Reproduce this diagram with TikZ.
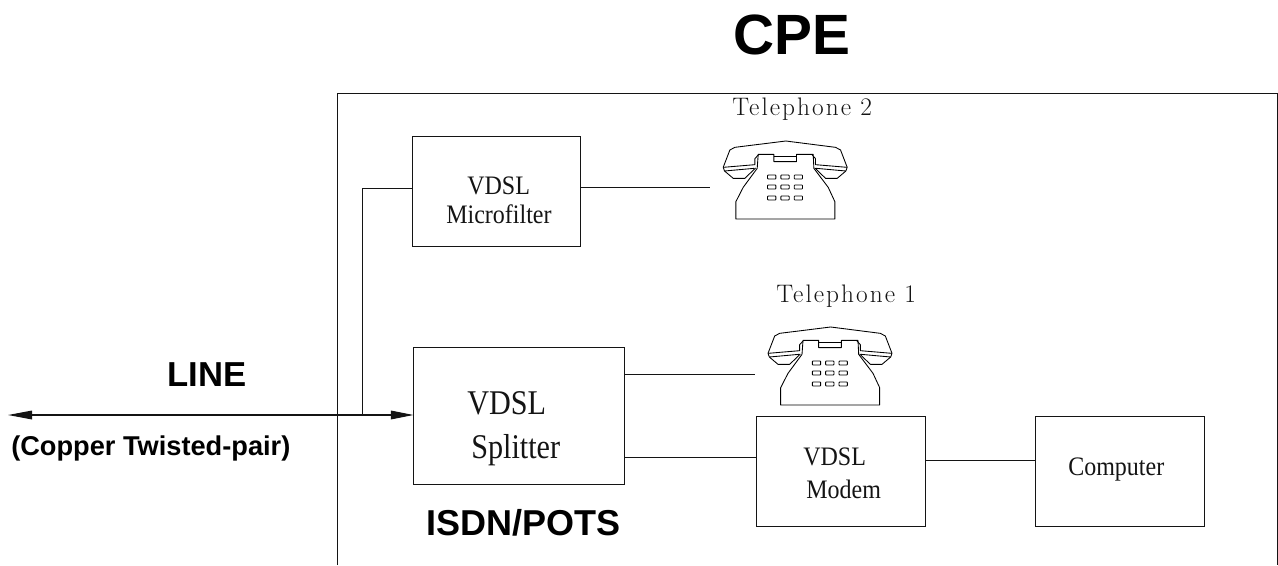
\documentclass[tikz,border=0pt]{standalone}
\usepackage{fontspec}
\usepackage{graphicx}
\usetikzlibrary{arrows.meta}
\setmainfont{Liberation Serif}
\newfontfamily\boldsans[BoldFont={Liberation Sans Bold}]{Liberation Sans}
\newfontfamily\lmfont[LetterSpace=8]{Latin Modern Roman}
\newcommand{\narrow}[1]{\scalebox{.9}[1]{#1}}
\newcommand{\narrowb}[1]{\scalebox{.87}[1]{#1}}
\definecolor{ink}{gray}{0.08}
\tikzset{
  line/.style={draw=ink,line width=.75pt},
  boxnode/.style={line,rectangle,inner sep=0pt,outer sep=0pt,fill=white},
  head/.style={font=\boldsans\bfseries,anchor=base west,inner sep=0pt,text=black},
  serif/.style={anchor=base west,inner sep=0pt,text=ink},
  cad/.style={anchor=base west,inner sep=0pt,text=ink,font=\lmfont\fontsize{19}{19}\selectfont},
  phoneline/.style={draw=black,line width=.65pt,line join=round},
  phonepic/.pic={
    \begin{scope}[x=.25pt,y=-.25pt,shift={(-256,-387)}]
      \draw[phoneline] (70,232) -- (90,180) -- (105,172) -- (258,153) -- (407,172) -- (422,180) -- (442,232);
      \draw[phoneline] (70,232) -- (165,224) -- (165,206) -- (175,195);
      \draw[phoneline] (442,232) -- (347,224) -- (347,206) -- (337,195);
      \draw[phoneline] (70,232) -- (74,243) -- (100,265) -- (135,265) -- (167,234);
      \draw[phoneline] (442,232) -- (438,243) -- (412,265) -- (377,265) -- (345,234);
      \draw[phoneline] (74,243) -- (163,235);
      \draw[phoneline] (438,243) -- (349,235);
      \draw[phoneline] (175,193) -- (222,193) -- (222,215) -- (290,215) -- (290,193) -- (340,193) -- (342,235) -- (385,292) -- (405,335) -- (405,387) -- (108,387) -- (108,335) -- (130,292) -- (172,235) -- cycle;
      \draw[phoneline] (222,198) -- (290,198);
      \foreach \kx in {203,243,283}
        \foreach \ky in {255,285,318}
          \draw[phoneline,rounded corners=.5pt] (\kx,\ky) rectangle ++(25,12);
    \end{scope}
  }
}
\begin{document}
\begin{tikzpicture}[x=.75pt,y=-.75pt]
\useasboundingbox (0,0) rectangle (1278,565);
% outer CPE frame (open at the bottom edge)
\coordinate (framebl) at (337,565);
\coordinate (frametl) at (337,93.5);
\coordinate (frametr) at (1277.5,93.5);
\coordinate (framebr) at (1277.5,565);
\draw[line] (framebl) -- (frametl) -- (frametr) -- (framebr);

% free ends and junctions
\coordinate (lineL) at (8,415);
\coordinate (lineJ) at (362,415);
\coordinate (phoneTwoIn) at (710,187);
\coordinate (phoneOneIn) at (755,374);
\coordinate (splitLow) at (700,457);
\coordinate (compLink) at (980,460);

% boxes
\node[boxnode,minimum width=126.15pt,minimum height=82.5pt] (micro) at (496.85,191) {};
\node[boxnode,minimum width=158.25pt,minimum height=103.1pt] (splitter) at (519,416.25) {};
\node[boxnode,minimum width=126.75pt,minimum height=82.5pt] (modem) at (840.5,471.5) {};
\node[boxnode,minimum width=126.75pt,minimum height=82.5pt] (computer) at (1120,471.5) {};

% connectors
\draw[line,line width=.9pt,{Triangle[length=18pt,width=6.5pt]}-{Triangle[length=17pt,width=6.5pt]}] (lineL) -- (lineL -| splitter.west);
\draw[line] (lineJ) |- (micro.west |- 0,188);
\draw[line] (micro.east |- phoneTwoIn) -- (phoneTwoIn);
\draw[line] (splitter.east |- phoneOneIn) -- (phoneOneIn);
\draw[line] (splitter.east |- splitLow) -- (modem.west |- splitLow);
\draw[line] (modem.east |- compLink) -- (computer.west |- compLink);

% telephones
\pic (phoneTwo) at (785.2,219) {phonepic};
\pic (phoneOne) at (830,405) {phonepic};

% texts
\node[head,font=\boldsans\bfseries\fontsize{42.6}{42.6}\selectfont] (cpe) at (733,54) {CPE};
\node[head,font=\boldsans\bfseries\fontsize{26}{26}\selectfont] (linetxt) at (167,386.5) {LINE};
\node[head,font=\boldsans\bfseries\fontsize{20.4}{20.4}\selectfont] (copper) at (11,455) {(Copper Twisted-pair)};
\node[head,font=\boldsans\bfseries\fontsize{27}{27}\selectfont] (isdn) at (426,535) {ISDN/POTS};
\node[cad] (t2) at (732,115) {Telephone\hspace{7pt}2};
\node[cad] (t1) at (776,302) {Telephone\hspace{7pt}1};
\node[serif,font=\fontsize{20}{20}\selectfont] (mv) at (467,194.5) {\narrow{VDSL}};
\node[serif,font=\fontsize{20}{20}\selectfont] (mf) at (446,223) {\narrow{Microfilter}};
\node[serif,font=\fontsize{26}{26}\selectfont] (sv) at (467,414) {\narrowb{VDSL}};
\node[serif,font=\fontsize{26}{26}\selectfont] (ss) at (471,458) {\narrowb{Splitter}};
\node[serif,font=\fontsize{20}{20}\selectfont] (dv) at (803,465) {\narrow{VDSL}};
\node[serif,font=\fontsize{20}{20}\selectfont] (dm) at (806,498) {\narrow{Modem}};
\node[serif,font=\fontsize{20}{20}\selectfont] (cp) at (1068,475) {\narrow{Computer}};
\end{tikzpicture}
\end{document}
